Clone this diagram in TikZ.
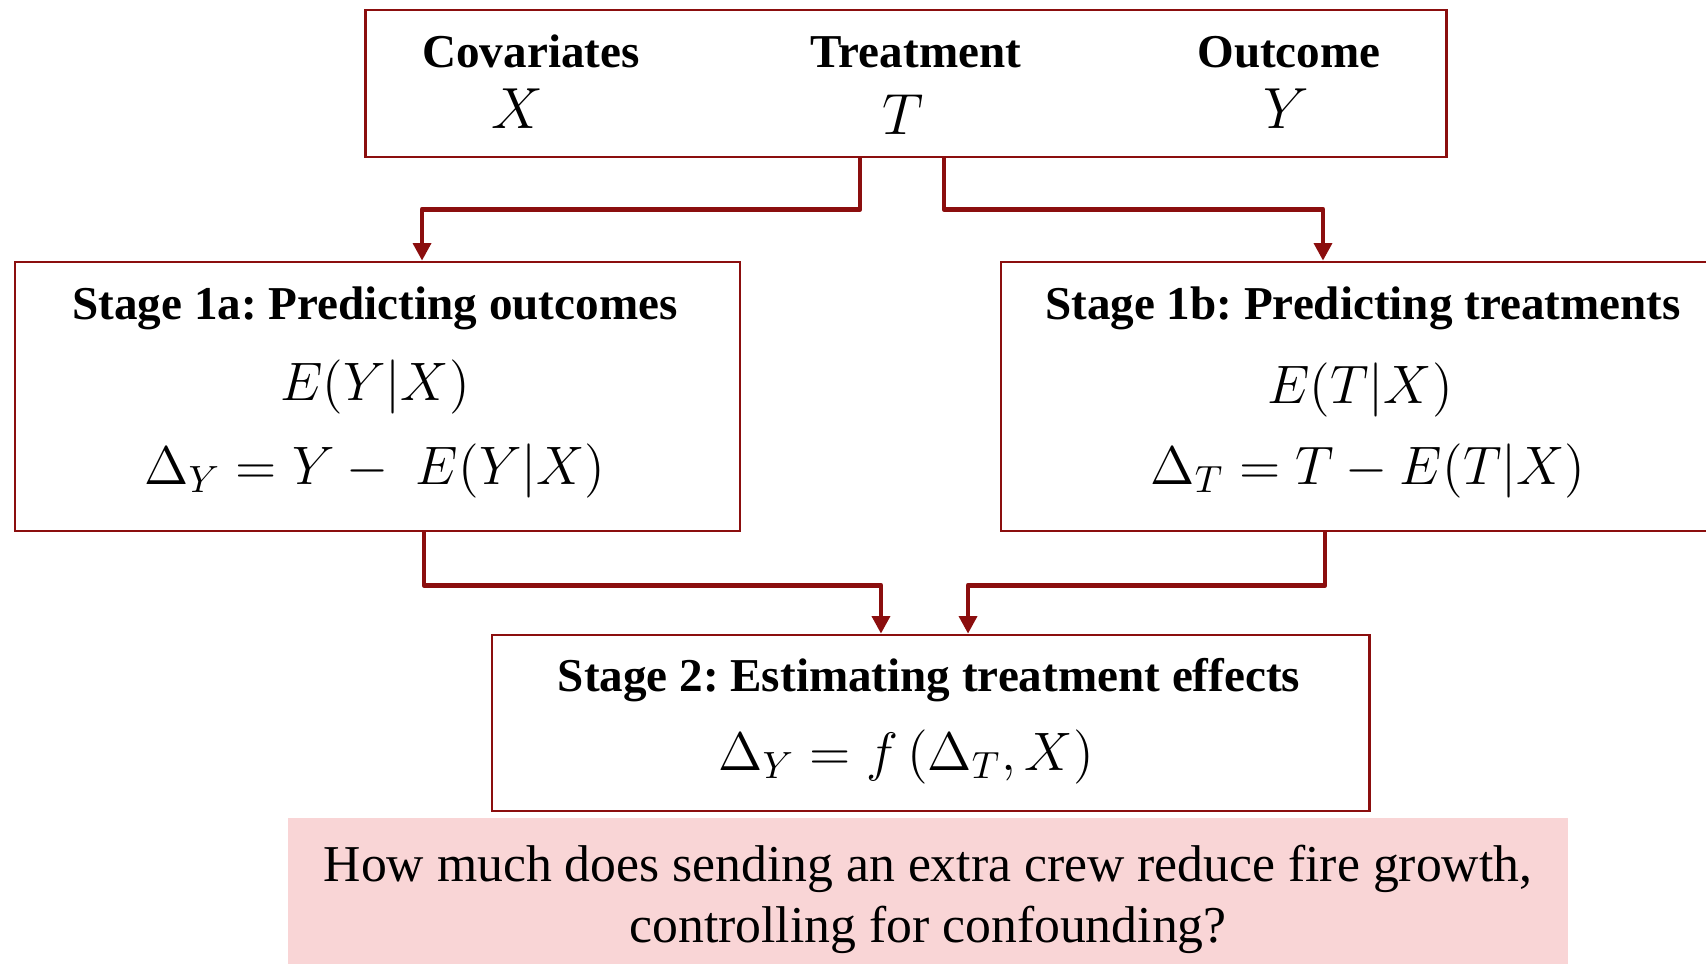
\RequirePackage{fix-cm}
\documentclass[tikz,border=0pt]{standalone}
\usepackage{fontspec}
\setmainfont{Liberation Serif}
\usetikzlibrary{arrows.meta}
\frenchspacing

\definecolor{boxred}{RGB}{139,14,14}
\definecolor{notepink}{RGB}{249,213,214}

\begin{document}
\begin{tikzpicture}[x=0.01cm, y=-0.01cm, >={Triangle[length=5pt, width=5pt]},
    stagebox/.style={draw=boxred, line width=0.7pt, inner sep=0pt},
    head/.style={anchor=base, inner sep=0pt, font=\fontsize{13.4}{16}\selectfont\bfseries},
    varlabel/.style={anchor=base, inner sep=0pt, font=\fontsize{16.5}{20}\selectfont},
    formula/.style={anchor=base, inner sep=0pt, font=\fontsize{15.4}{19}\selectfont},
    flow/.style={->, draw=boxred, line width=1.4pt, line join=round}]
    % Giới hạn vùng hiển thị
    \useasboundingbox (0,0) rectangle (1706,963);
    \clip (0,0) rectangle (1706,963);

    % 1. Khung dữ liệu: X, T, Y
    \node[stagebox, minimum width=10.8cm, minimum height=1.47cm] (inputs) at (906,83.5) {};
    \node[head] (covlab) at (531,67) {Covariates};
    \node[varlabel] (covvar) at (517,128) {$X$};
    \node[head] (trtlab) at (916,67) {Treatment};
    \node[varlabel] (trtvar) at (903,134) {$T$};
    \node[head] (outlab) at (1289,67) {Outcome};
    \node[varlabel] (outvar) at (1286,128) {$Y$};

    % 2. Giai đoạn 1a và 1b
    \node[stagebox, minimum width=7.25cm, minimum height=2.69cm] (stageA) at (377.5,396.5) {};
    \node[head] (stageAtitle) at (375,319) {Stage 1a: Predicting outcomes};
    \node[formula] (stageAfit) at (375,400) {$E(Y|X)$};
    \node[formula] (stageAres) at (375,484) {$\Delta_Y = Y -\; E(Y|X)$};

    \node[stagebox, minimum width=7.25cm, minimum height=2.69cm] (stageB) at (1363.5,396.5) {};
    \node[head] (stageBtitle) at (1363,319) {Stage 1b: Predicting treatments};
    \node[formula] (stageBfit) at (1360,403) {$E(T|X)$};
    \node[formula] (stageBres) at (1368,484) {$\Delta_T = T - E(T|X)$};

    % 3. Giai đoạn 2
    \node[stagebox, minimum width=8.77cm, minimum height=1.76cm] (stageC) at (930.5,723) {};
    \node[head] (stageCtitle) at (929,691) {Stage 2: Estimating treatment effects};
    \node[formula] (stageCeq) at (906,770) {$\Delta_Y = f\,(\Delta_T, X)$};

    % 4. Các mũi tên nối
    \draw[flow] ([xshift=-0.46cm]inputs.south) -- ++(0,51) -| ([xshift=0.445cm]stageA.north);
    \draw[flow] ([xshift=0.38cm]inputs.south) -- ++(0,51) -| ([xshift=-0.405cm]stageB.north);
    \draw[flow] ([xshift=0.465cm]stageA.south) -- ++(0,53) -| ([xshift=-0.495cm]stageC.north);
    \draw[flow] ([xshift=-0.385cm]stageB.south) -- ++(0,53) -| ([xshift=0.375cm]stageC.north);

    % 5. Câu hỏi nghiên cứu
    \node[fill=notepink, minimum width=12.8cm, minimum height=1.6cm, inner sep=0pt] (question) at (928,898) {};
    \node[anchor=base, inner sep=0pt, font=\fontsize{14.7}{17}\selectfont] (qlineA) at (928,881)
        {How much does sending an extra crew reduce fire growth,};
    \node[anchor=base, inner sep=0pt, font=\fontsize{14.7}{17}\selectfont] (qlineB) at (928,942)
        {controlling for confounding?};
\end{tikzpicture}
\end{document}
